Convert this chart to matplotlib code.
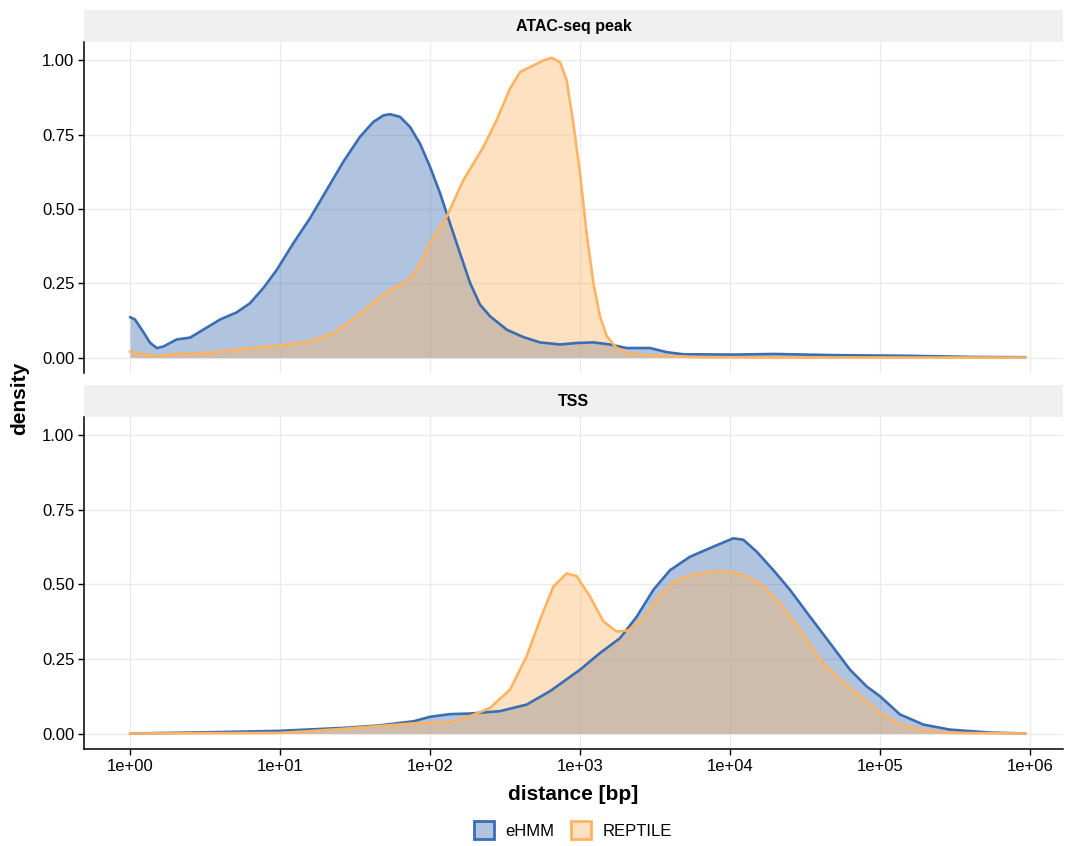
"""Faceted density of distances (log10 bp) for eHMM vs REPTILE, ggplot-like look."""
import numpy as np
import matplotlib

matplotlib.use("Agg")
import matplotlib.pyplot as plt
from matplotlib.patches import Patch, Rectangle

plt.rcParams["font.family"] = ["Liberation Sans", "DejaVu Sans"]

PANELS = ["ATAC-seq peak", "TSS"]
METHODS = ["eHMM", "REPTILE"]
LINE_COLORS = {"eHMM": "#3B6DB3", "REPTILE": "#FDB462"}

# curves: log10(distance) and density
atac_ehmm_lx = [0, 0.033, 0.078, 0.133, 0.178, 0.222, 0.311, 0.40, 0.489, 0.60, 0.711, 0.80,
                0.889, 0.978, 1.089, 1.20, 1.311, 1.422, 1.533, 1.622, 1.689, 1.733, 1.80,
                1.867, 1.933, 2.0, 2.067, 2.133, 2.20, 2.267, 2.333, 2.40, 2.511, 2.622,
                2.733, 2.867, 2.978, 3.089, 3.20, 3.311, 3.467, 3.58, 3.69, 4.03, 4.30, 4.71,
                5.17, 5.62, 5.97]
atac_ehmm_y = [0.136, 0.128, 0.094, 0.050, 0.032, 0.037, 0.061, 0.067, 0.094, 0.128, 0.152,
               0.183, 0.234, 0.295, 0.385, 0.469, 0.564, 0.659, 0.743, 0.793, 0.815, 0.819,
               0.810, 0.776, 0.720, 0.642, 0.553, 0.452, 0.351, 0.251, 0.178, 0.139, 0.094,
               0.069, 0.051, 0.044, 0.049, 0.051, 0.044, 0.032, 0.032, 0.018, 0.011, 0.010,
               0.012, 0.008, 0.006, 0.002, 0.001]

atac_rep_lx = [0, 0.089, 0.178, 0.311, 0.556, 0.733, 0.978, 1.20, 1.356, 1.511, 1.644, 1.733,
               1.844, 1.911, 2.0, 2.111, 2.222, 2.356, 2.444, 2.533, 2.60, 2.689, 2.756,
               2.811, 2.867, 2.911, 2.956, 3.0, 3.044, 3.089, 3.133, 3.178, 3.244, 3.333,
               3.467, 3.80, 4.50, 5.97]
atac_rep_y = [0.020, 0.011, 0.004, 0.012, 0.017, 0.028, 0.040, 0.055, 0.083, 0.139, 0.195,
              0.228, 0.256, 0.295, 0.385, 0.474, 0.597, 0.709, 0.799, 0.905, 0.961, 0.983,
              1.000, 1.009, 0.994, 0.933, 0.787, 0.620, 0.418, 0.251, 0.139, 0.072, 0.032,
              0.013, 0.007, 0.001, 0.0, 0.0]

tss_ehmm_lx = [0, 0.51, 1.0, 1.43, 1.66, 1.89, 2.0, 2.133, 2.267, 2.467, 2.644, 2.80, 3.0,
               3.133, 3.267, 3.378, 3.489, 3.60, 3.733, 3.889, 4.022, 4.089, 4.178, 4.289,
               4.40, 4.533, 4.667, 4.80, 4.911, 5.0, 5.133, 5.289, 5.467, 5.74, 5.97]
tss_ehmm_y = [0.0, 0.004, 0.009, 0.019, 0.027, 0.041, 0.056, 0.065, 0.067, 0.075, 0.097,
              0.142, 0.214, 0.270, 0.320, 0.392, 0.482, 0.548, 0.593, 0.627, 0.655, 0.650,
              0.610, 0.548, 0.482, 0.392, 0.303, 0.214, 0.158, 0.125, 0.064, 0.030, 0.013,
              0.003, 0.0]

tss_rep_lx = [0, 1.0, 1.20, 1.43, 1.66, 1.89, 2.133, 2.267, 2.40, 2.533, 2.644, 2.733, 2.822,
              2.911, 2.978, 3.067, 3.156, 3.244, 3.322, 3.422, 3.533, 3.644, 3.778, 3.933,
              4.067, 4.20, 4.333, 4.467, 4.60, 4.733, 4.867, 5.0, 5.133, 5.289, 5.467, 5.97]
tss_rep_y = [0.0, 0.002, 0.008, 0.016, 0.025, 0.034, 0.038, 0.058, 0.086, 0.147, 0.259,
             0.381, 0.493, 0.537, 0.528, 0.459, 0.376, 0.342, 0.346, 0.387, 0.465, 0.515,
             0.537, 0.545, 0.537, 0.504, 0.437, 0.348, 0.247, 0.181, 0.125, 0.069, 0.030,
             0.011, 0.002, 0.0]

CURVES = {
    ("ATAC-seq peak", "eHMM"): (atac_ehmm_lx, atac_ehmm_y),
    ("ATAC-seq peak", "REPTILE"): (atac_rep_lx, atac_rep_y),
    ("TSS", "eHMM"): (tss_ehmm_lx, tss_ehmm_y),
    ("TSS", "REPTILE"): (tss_rep_lx, tss_rep_y),
}

X_TICKS = [1, 10, 100, 1e3, 1e4, 1e5, 1e6]
X_TICK_LABELS = ["1e+00", "1e+01", "1e+02", "1e+03", "1e+04", "1e+05", "1e+06"]
Y_TICKS = [0.0, 0.25, 0.5, 0.75, 1.0]

W, H = 1065, 846
fig = plt.figure(figsize=(W / 100, H / 100), dpi=100)

# pixel boxes (top, bottom) for each panel, strip sits on top
boxes = [(42, 373), (417, 749)]
left_px, right_px, strip_px = 84, 1063, 32

for i, (panel, (top, bot)) in enumerate(zip(PANELS, boxes)):
    ax = fig.add_axes([left_px / W, 1 - bot / H, (right_px - left_px) / W, (bot - top) / H])
    for m in METHODS:
        lx, y = CURVES[(panel, m)]
        x = 10 ** np.asarray(lx)
        ax.fill_between(x, y, 0, color=LINE_COLORS[m], alpha=0.4, lw=0, zorder=2)
        ax.plot(x, y, color=LINE_COLORS[m], lw=1.9, zorder=3,
                solid_joinstyle="round", solid_capstyle="round")

    ax.set_xscale("log")
    ax.set_xlim(10 ** -0.307, 10 ** 6.22)
    ax.set_ylim(-0.052, 1.062)
    ax.set_xticks(X_TICKS)
    ax.xaxis.set_minor_locator(matplotlib.ticker.NullLocator())
    ax.set_yticks(Y_TICKS)
    ax.set_yticklabels([f"{v:.2f}" for v in Y_TICKS])
    ax.grid(True, color="#EBEBEB", lw=1.0, zorder=0)
    ax.set_axisbelow(True)
    for s in ("top", "right"):
        ax.spines[s].set_visible(False)
    ax.spines["left"].set_linewidth(1.1)
    ax.spines["bottom"].set_linewidth(1.1)
    ax.tick_params(axis="both", length=4, width=1.0, labelsize=12, pad=3, colors="black")

    if i == 0:
        ax.spines["bottom"].set_visible(False)
        ax.tick_params(axis="x", length=0, labelbottom=False)
    else:
        ax.set_xticklabels(X_TICK_LABELS)
        ax.set_xlabel("distance [bp]", fontsize=15, fontweight="bold", labelpad=8)

    # facet strip
    strip_h = strip_px / (bot - top)
    ax.add_patch(Rectangle((0, 1), 1, strip_h, transform=ax.transAxes, facecolor="#F0F0F0",
                           edgecolor="none", clip_on=False))
    ax.text(0.5, 1 + strip_h / 2, panel, transform=ax.transAxes, ha="center", va="center",
            fontsize=11.5, fontweight="bold")

fig.text(20 / W, 1 - 398 / H, "density", rotation=90, ha="center", va="center",
         fontsize=15, fontweight="bold")

handles = [Patch(facecolor=matplotlib.colors.to_rgba(LINE_COLORS[m], 0.4),
                 edgecolor=LINE_COLORS[m], lw=2, label=m) for m in METHODS]
fig.legend(handles=handles, loc="center", bbox_to_anchor=(573 / W, 1 - 830 / H), ncol=2,
           frameon=False, fontsize=12, handlelength=1.2, handleheight=1.2,
           columnspacing=1.0, handletextpad=0.7)

fig.savefig("out.png", dpi=100)
